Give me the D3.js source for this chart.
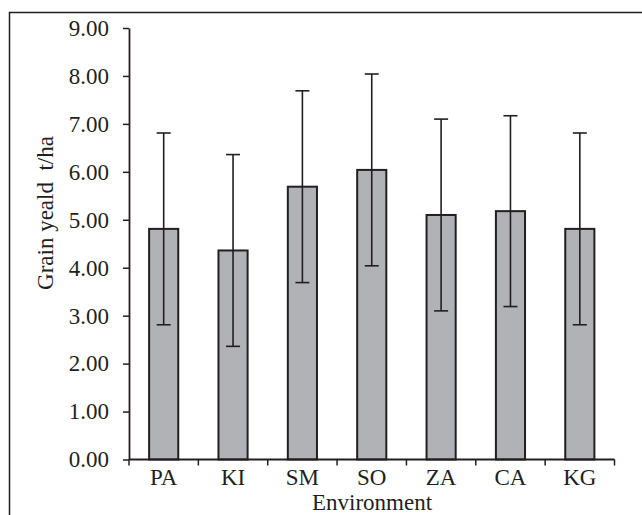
<!DOCTYPE html>
<meta charset="utf-8">
<script src="https://d3js.org/d3.v7.min.js"></script>
<style>
  body { margin: 0; background: #fff; }
  text { font-family: "Liberation Serif", "Times New Roman", serif; fill: #231f20; }
</style>
<div id="chart"></div>
<script>
  // grain yield per environment, with error bar half-widths
  let environments = ["PA", "KI", "SM", "SO", "ZA", "CA", "KG"]
  let yieldMeans = [4.81, 4.36, 5.69, 6.04, 5.10, 5.18, 4.81]
  let yieldErrors = [2.00, 2.00, 2.00, 2.00, 2.00, 1.99, 2.00]
  let yTicks = [0, 1, 2, 3, 4, 5, 6, 7, 8, 9]

  let data = environments.map(function(d, i) {
    return {id: d, value: yieldMeans[i], err: yieldErrors[i]}
  })

  var margin = {top: 28, right: 27, bottom: 56, left: 129},
      width = 614.5 - margin.left,
      height = 459.5 - margin.top;

  var root = d3.select("#chart")
    .append("svg")
      .attr("width", 642)
      .attr("height", 515)

  // outer frame (cut off at right and bottom like the original)
  root.append("rect")
    .attr("x", 9.5).attr("y", 12.5)
    .attr("width", 700).attr("height", 600)
    .attr("fill", "none")
    .attr("stroke", "#231f20")
    .attr("stroke-width", 1.5)

  var svg = root.append("g")
      .attr("transform", "translate(" + margin.left + "," + margin.top + ")");

  let x = d3.scaleBand()
    .range([0, width])
    .domain(environments)
    .paddingInner(0.58)
    .paddingOuter(0.29)

  let y = d3.scaleLinear()
    .domain([0, 9])
    .range([height, 0])

  // bars
  svg.selectAll(".bar")
    .data(data)
    .enter()
    .append("rect")
      .attr("class", "bar")
      .attr("x", function(d) { return x(d.id) })
      .attr("y", function(d) { return y(d.value) })
      .attr("width", x.bandwidth())
      .attr("height", function(d) { return height - y(d.value) })
      .attr("fill", "#b1b2b6")
      .attr("stroke", "#231f20")
      .attr("stroke-width", 2)

  // error bars
  let cap = 7
  let eb = svg.selectAll(".err")
    .data(data)
    .enter()
    .append("g")
      .attr("class", "err")
      .attr("stroke", "#231f20")
      .attr("stroke-width", 1.6)
  eb.append("line")
    .attr("x1", function(d) { return x(d.id) + x.bandwidth() / 2 })
    .attr("x2", function(d) { return x(d.id) + x.bandwidth() / 2 })
    .attr("y1", function(d) { return y(d.value - d.err) })
    .attr("y2", function(d) { return y(d.value + d.err) })
  eb.append("line")
    .attr("x1", function(d) { return x(d.id) + x.bandwidth() / 2 - cap })
    .attr("x2", function(d) { return x(d.id) + x.bandwidth() / 2 + cap })
    .attr("y1", function(d) { return y(d.value + d.err) })
    .attr("y2", function(d) { return y(d.value + d.err) })
  eb.append("line")
    .attr("x1", function(d) { return x(d.id) + x.bandwidth() / 2 - cap })
    .attr("x2", function(d) { return x(d.id) + x.bandwidth() / 2 + cap })
    .attr("y1", function(d) { return y(d.value - d.err) })
    .attr("y2", function(d) { return y(d.value - d.err) })

  // y axis
  let yAxis = svg.append("g")
    .call(d3.axisLeft(y).tickValues(yTicks).tickFormat(d3.format(".2f")).tickSize(6).tickSizeOuter(0))
  yAxis.attr("font-family", null)
  yAxis.select(".domain").attr("stroke", "#231f20").attr("stroke-width", 1.8)
  yAxis.selectAll(".tick line").attr("stroke", "#231f20").attr("stroke-width", 1.5)
  yAxis.selectAll(".tick text")
    .attr("x", -20)
    .style("font-size", "23px")
    .style("font-family", "'Liberation Serif', serif")
    .attr("fill", "#231f20")

  // x axis: ticks sit on the band boundaries
  let xAxis = svg.append("g")
    .attr("transform", "translate(0," + height + ")")
    .call(d3.axisBottom(x).tickSize(0).tickPadding(9))
  xAxis.attr("font-family", null)
  xAxis.select(".domain").remove()
  xAxis.append("line")
    .attr("x1", 0).attr("x2", width)
    .attr("stroke", "#231f20").attr("stroke-width", 1.8)
  xAxis.selectAll(".bound")
    .data(d3.range(environments.length + 1))
    .enter()
    .append("line")
      .attr("class", "bound")
      .attr("x1", function(i) { return i * x.step() })
      .attr("x2", function(i) { return i * x.step() })
      .attr("y1", 0).attr("y2", 6)
      .attr("stroke", "#231f20").attr("stroke-width", 1.5)
  xAxis.selectAll(".tick text")
    .style("font-size", "23px")
    .style("font-family", "'Liberation Serif', serif")
    .attr("fill", "#231f20")
    .attr("dy", "0.72em")

  // axis titles
  root.append("text")
    .attr("transform", "translate(53,213) rotate(-90)")
    .attr("text-anchor", "middle")
    .style("font-size", "23px")
    .style("white-space", "pre")
    .text("Grain yeald  t/ha")

  root.append("text")
    .attr("x", 372)
    .attr("y", 510)
    .attr("text-anchor", "middle")
    .style("font-size", "23px")
    .text("Environment")
</script>
